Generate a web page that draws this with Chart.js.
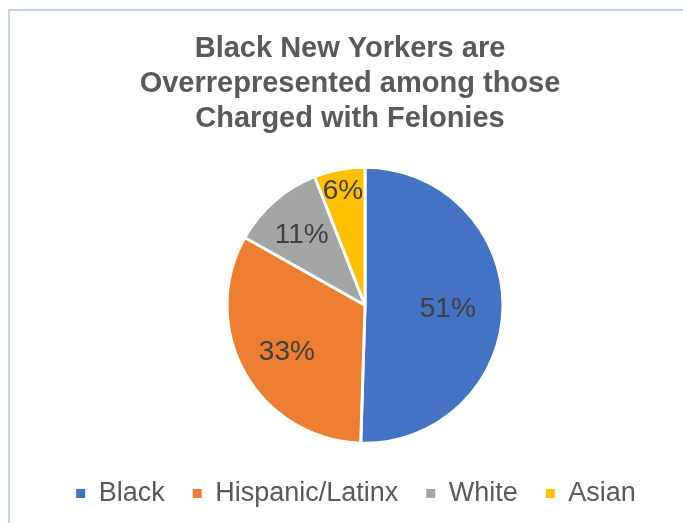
<!DOCTYPE html>
<html>
<head>
<meta charset="utf-8">
<script src="https://cdn.jsdelivr.net/npm/chart.js@4"></script>
<style>
    html, body { margin: 0; padding: 0; background: #fff; overflow: hidden; }
    body { width: 683px; height: 523px; position: relative; }
    #frame {
        position: absolute; left: 8px; top: 9px; width: 720px; height: 600px;
        border-top: 2px solid #c3d4ef; border-left: 2px solid #c3d4ef;
    }
    #wrap { position: absolute; left: 0; top: 0; width: 683px; height: 517px; }
</style>
</head>
<body>
<div id="frame"></div>
<div id="wrap"><canvas id="pieChart"></canvas></div>
<script>
const titleLines = ['Black New Yorkers are', 'Overrepresented among those', 'Charged with Felonies'];
const categories = ['Black', 'Hispanic/Latinx', 'White', 'Asian'];
const shares = [51, 33, 11, 6];
const sliceColors = ['#4472C4', '#ED7D31', '#A5A5A5', '#FFC000'];

const FONT = '"Liberation Sans", Arial, sans-serif';
const TEXT_GREY = '#595959';

// how far out (fraction of radius) each % label sits, like Excel's best fit
const labelRadius = [0.6, 0.65, 0.7, 0.86];

// pie and legend sit a bit right of the title centre
const nudgeBoxes = {
    id: 'nudgeBoxes',
    afterLayout(chart) {
        const a = chart.chartArea;
        a.left += 15;
        a.right += 15;
        if (chart.legend) {
            chart.legend.left += 6;
            chart.legend.right += 6;
        }
    }
};

const percentLabels = {
    id: 'percentLabels',
    afterDatasetsDraw(chart) {
        const ctx = chart.ctx;
        const meta = chart.getDatasetMeta(0);
        ctx.save();
        ctx.font = '28px ' + FONT;
        ctx.fillStyle = '#404040';
        ctx.textAlign = 'center';
        ctx.textBaseline = 'middle';
        meta.data.forEach((arc, i) => {
            const p = arc.getProps(['x', 'y', 'startAngle', 'endAngle', 'outerRadius'], true);
            const mid = (p.startAngle + p.endAngle) / 2;
            const r = p.outerRadius * labelRadius[i];
            ctx.fillText(shares[i] + '%', p.x + Math.cos(mid) * r, p.y + Math.sin(mid) * r + 3);
        });
        ctx.restore();
    }
};

const ctx = document.getElementById('pieChart').getContext('2d');
new Chart(ctx, {
    type: 'pie',
    data: {
        labels: categories,
        datasets: [{
            data: shares,
            backgroundColor: sliceColors,
            borderColor: '#ffffff',
            borderWidth: 3,
            radius: 138
        }]
    },
    options: {
        responsive: true,
        maintainAspectRatio: false,
        animation: false,
        events: [],
        layout: { padding: { left: 17, right: 0, top: 0, bottom: 0 } },
        plugins: {
            title: {
                display: true,
                text: titleLines,
                color: TEXT_GREY,
                font: { family: FONT, size: 29, weight: 'bold', lineHeight: 1.2 },
                padding: { top: 32, bottom: 22 }
            },
            legend: {
                position: 'bottom',
                labels: {
                    color: TEXT_GREY,
                    font: { family: FONT, size: 27 },
                    boxWidth: 9,
                    boxHeight: 9,
                    padding: 28,
                    generateLabels(chart) {
                        const items = Chart.overrides.pie.plugins.legend.labels.generateLabels(chart);
                        return items.map(it => Object.assign(it, { lineWidth: 0 }));
                    }
                }
            },
            tooltip: { enabled: false }
        }
    },
    plugins: [nudgeBoxes, percentLabels]
});
</script>
</body>
</html>
